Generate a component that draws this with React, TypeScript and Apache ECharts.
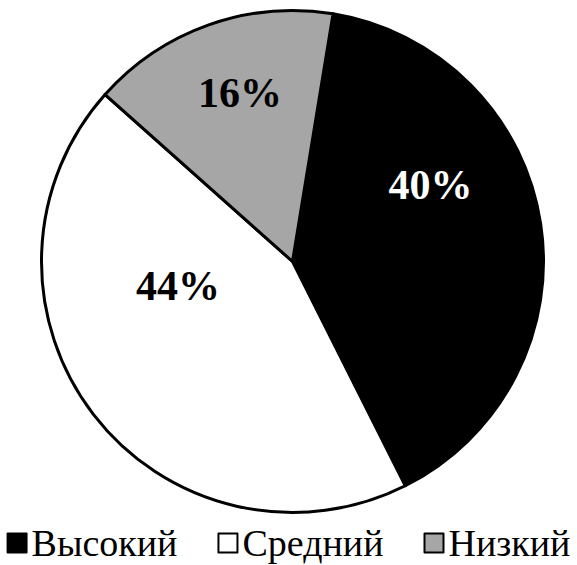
import React, { useEffect, useRef } from "react";
import * as echarts from "echarts";

const categories = ["Высокий", "Средний", "Низкий"];
const values = [40, 44, 16];
const colors = ["#000000", "#ffffff", "#a6a6a6"];
const labelColors = ["#ffffff", "#000000", "#000000"];
const labelShift = [
  [11, -57],
  [-12.5, -54],
  [-9.5, -47],
];

export default function App() {
  const ref = useRef<HTMLDivElement>(null);
  useEffect(() => {
    if (!ref.current) return;
    document.body.style.margin = "0";
    const chart = echarts.init(ref.current, null, { renderer: "svg" });
    const font = "Liberation Serif";
    chart.setOption({
      animation: false,
      backgroundColor: "#ffffff",
      legend: {
        data: categories,
        top: 519,
        left: "center",
        icon: "rect",
        itemWidth: 19,
        itemHeight: 19,
        itemGap: 40,
        itemStyle: { borderColor: "#000", borderWidth: 2 },
        textStyle: { fontFamily: font, fontSize: 38, color: "#000" },
        selectedMode: false,
      },
      series: [
        {
          type: "pie",
          center: [292.5, 261.5],
          radius: 251,
          startAngle: 80.7,
          clockwise: true,
          silent: true,
          itemStyle: { borderColor: "#000", borderWidth: 3 },
          label: {
            show: true,
            position: "inside",
            formatter: "{c}%",
            fontFamily: font,
            fontWeight: "bold",
            fontSize: 42,
          },
          labelLine: { show: false },
          labelLayout: (p: any) => ({
            dx: labelShift[p.dataIndex][0],
            dy: labelShift[p.dataIndex][1],
          }),
          data: categories.map((name, i) => ({
            name,
            value: values[i],
            itemStyle: { color: colors[i] },
            label: { color: labelColors[i] },
          })),
        },
      ],
    });
    return () => chart.dispose();
  }, []);
  return <div ref={ref} style={{ width: 577, height: 565 }} />;
}
